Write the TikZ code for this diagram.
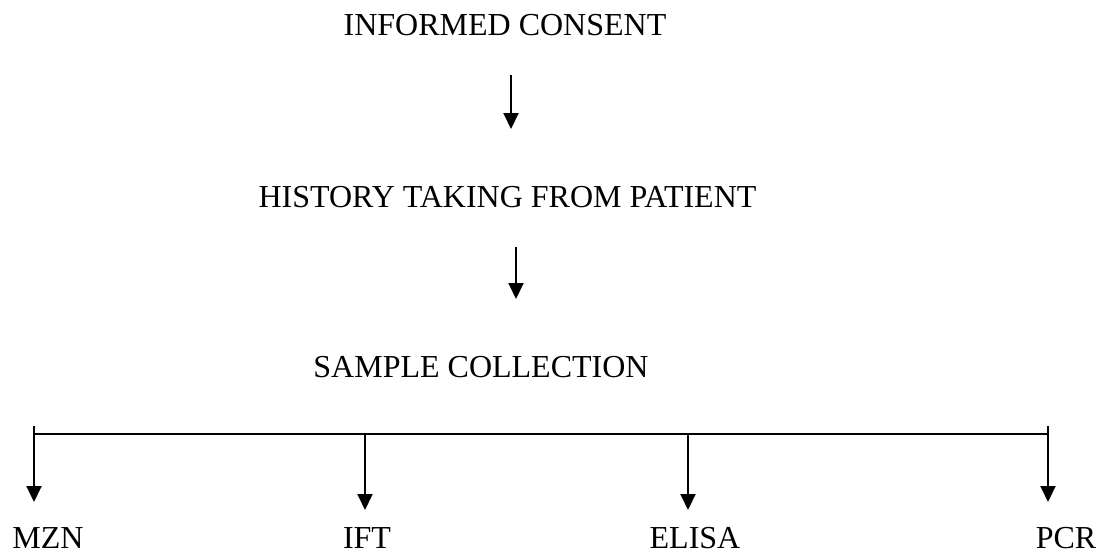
\documentclass[tikz,border=0pt]{standalone}
\usepackage{fontspec}
\setmainfont{Liberation Serif}
\usetikzlibrary{arrows.meta}
\begin{document}
\begin{tikzpicture}[x=1pt,y=-1pt,
  lbl/.style={anchor=base,inner sep=0pt,font=\fontsize{32}{38}\selectfont},
  arr/.style={line width=2pt,-{Triangle[width=15pt,length=16pt]}},
  bar/.style={line width=1.6pt}]
\useasboundingbox (0,0) rectangle (1110,554);
\node[lbl] (ic) at (505,35) {INFORMED CONSENT};
\node[lbl] (hist) at (507.5,207) {HISTORY TAKING FROM PATIENT};
\node[lbl] (sc) at (481,377) {SAMPLE COLLECTION};
\node[lbl] (mzn) at (48,548) {MZN};
\node[lbl] (ift) at (367,548) {IFT};
\node[lbl] (elisa) at (695,548) {ELISA};
\node[lbl] (pcr) at (1066,548) {PCR};
% connector ends
\coordinate (a1s) at (511,75);
\coordinate (a1e) at (511,129);
\coordinate (a2s) at (516,247);
\coordinate (a2e) at (516,299);
\coordinate (bl) at (34,434);
\coordinate (br) at (1048,434);
\coordinate (b1) at (365,434);
\coordinate (b2) at (688,434);
\coordinate (tl) at (34,502);
\coordinate (tr) at (1048,502);
\coordinate (t1) at (365,510);
\coordinate (t2) at (688,510);
\draw[arr] (a1s) -- (a1e);
\draw[arr] (a2s) -- (a2e);
\draw[bar] (bl) -- (br);
\draw[arr] ([yshift=8pt]bl) -- (tl);
\draw[arr] ([yshift=8pt]br) -- (tr);
\draw[arr] (b1) -- (t1);
\draw[arr] (b2) -- (t2);
\end{tikzpicture}
\end{document}
